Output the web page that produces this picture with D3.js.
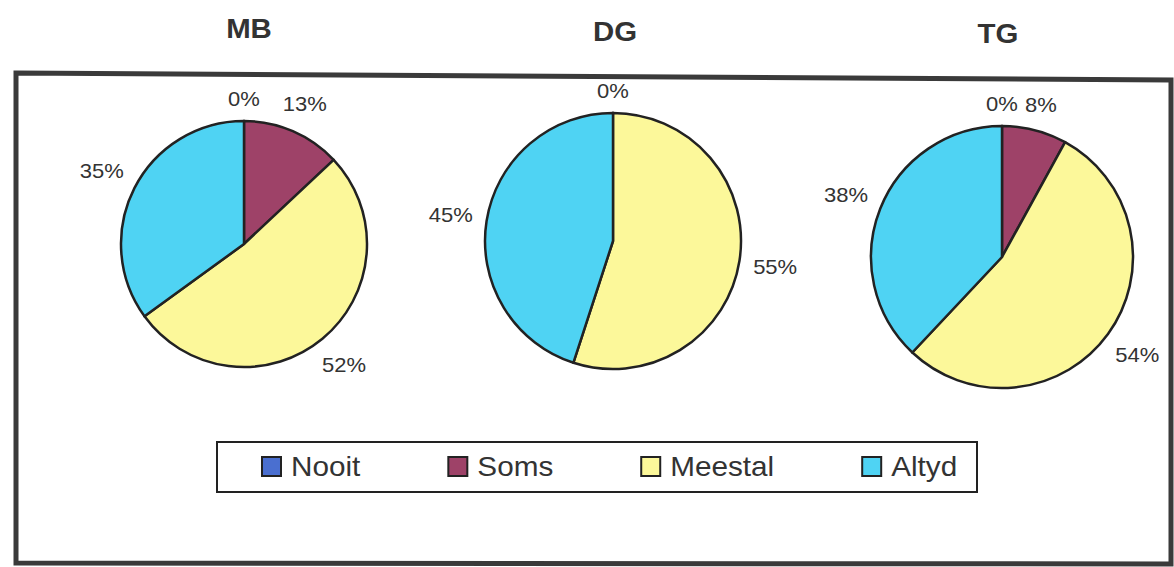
<!DOCTYPE html>
<html>
<head>
<meta charset="utf-8">
<script src="https://cdn.jsdelivr.net/npm/d3@7"></script>
<style>
  body { margin: 0; background: #fff; }
  svg text { font-family: "Liberation Sans", Arial, sans-serif; fill: #333; }
</style>
</head>
<body>
<div id="chart"></div>
<script>
// data
var categories = ["Nooit", "Soms", "Meestal", "Altyd"];
var groups = ["MB", "DG", "TG"];
var mbValues = [0, 13, 52, 35];
var dgValues = [0, 0, 55, 45];
var tgValues = [0, 8, 54, 38];
var colors = ["#4a6fd0", "#9e4268", "#fcf89a", "#4fd3f3"];

var width = 1174, height = 567;
var stretch = 1.1; // scan is a bit wider than the fonts

var svg = d3.select("#chart").append("svg")
    .attr("width", width)
    .attr("height", height);

// outer frame (scan is a bit skewed, top edge slopes down to the right)
svg.append("path")
    .attr("d", "M16,73 L1171,80 L1171,564 L16,563 Z")
    .attr("fill", "none")
    .attr("stroke", "#3a3a3a")
    .attr("stroke-width", 5);

var color = d3.scaleOrdinal().domain(categories).range(colors);

// one entry per pie: center + radius + title position
var pies = [
    {name: groups[0], values: mbValues, cx: 244, cy: 244, r: 123, tx: 249, ty: 38},
    {name: groups[1], values: dgValues, cx: 613, cy: 241, r: 128, tx: 615, ty: 41},
    {name: groups[2], values: tgValues, cx: 1002, cy: 257, r: 131, tx: 998, ty: 43}
];

var pie = d3.pie().sort(null).value(function(d) { return d.value; });

pies.forEach(function(p) {
    var data = categories.map(function(c, i) { return {cat: c, value: p.values[i]}; });
    var arcs = pie(data);
    var arc = d3.arc().innerRadius(0).outerRadius(p.r);

    svg.append("text")
        .attr("transform", "translate(" + p.tx + "," + p.ty + ") scale(1.05,1)")
        .attr("text-anchor", "middle")
        .style("font-size", "28px")
        .style("font-weight", "bold")
        .text(p.name);

    var g = svg.append("g")
        .attr("transform", "translate(" + p.cx + "," + p.cy + ")");

    g.selectAll("path")
        .data(arcs)
        .enter().append("path")
        .attr("d", arc)
        .attr("fill", function(d) { return color(d.data.cat); })
        .attr("stroke", "#222")
        .attr("stroke-width", 2.5)
        .attr("stroke-linejoin", "round");

    // labels, outside end; zero slices sharing one angle get one label
    var seen = {};
    arcs.forEach(function(d) {
        var a = (d.startAngle + d.endAngle) / 2;
        var key = a.toFixed(4);
        if (seen[key]) return;
        seen[key] = true;
        var t = g.append("text")
            .attr("text-anchor", "middle")
            .attr("dy", "0.35em")
            .style("font-size", "20px")
            .text(Math.round(d.data.value) + "%");
        var w = t.node().getComputedTextLength() * stretch;
        var proj = Math.abs(Math.sin(a)) * w / 2 + Math.abs(Math.cos(a)) * 9;
        var dist = p.r + 13 + proj;
        t.attr("transform", "translate(" + (Math.sin(a) * dist) + "," + (-Math.cos(a) * dist) + ") scale(" + stretch + ",1)");
    });
});

// ------------ legend -----------------
svg.append("rect")
    .attr("x", 217)
    .attr("y", 442)
    .attr("width", 760)
    .attr("height", 50)
    .attr("fill", "#fff")
    .attr("stroke", "#222")
    .attr("stroke-width", 2);

var lx = 262;
categories.forEach(function(c) {
    var item = svg.append("g").attr("transform", "translate(" + lx + ",457)");
    item.append("rect")
        .attr("x", 0)
        .attr("y", 0)
        .attr("width", 19)
        .attr("height", 19)
        .attr("fill", color(c))
        .attr("stroke", "#222")
        .attr("stroke-width", 2);
    var t = item.append("text")
        .attr("transform", "translate(29,19) scale(" + stretch + ",1)")
        .style("font-size", "27px")
        .text(c);
    lx += 29 + t.node().getComputedTextLength() * stretch + 88;
});
</script>
</body>
</html>
